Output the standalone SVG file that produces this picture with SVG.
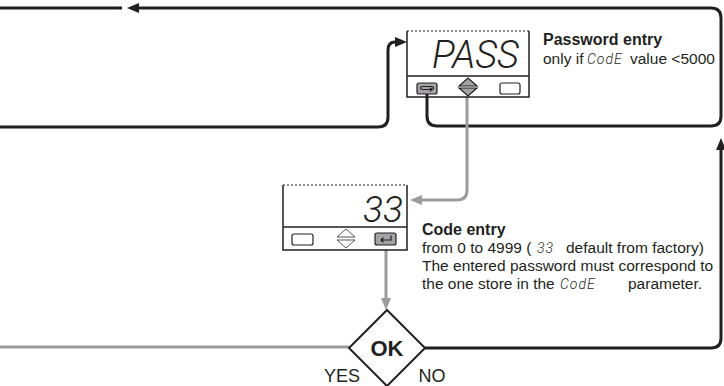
<svg xmlns="http://www.w3.org/2000/svg" width="724" height="386" viewBox="0 0 724 386">
  <style>
    .blk{fill:none;stroke:#231f20;stroke-width:3;}
    .gry{fill:none;stroke:#9b9b9d;stroke-width:3;}
    .box{fill:none;stroke:#231f20;stroke-width:1.5;}
    .dot{fill:none;stroke:#231f20;stroke-width:1.2;stroke-dasharray:2 2;}
    .lbl{font-family:"Liberation Sans",Arial,sans-serif;font-size:15.5px;fill:#231f20;}
    .bold{font-weight:bold;font-size:16px;}
    .seg{font-family:Roboto,"Open Sans","DejaVu Sans",sans-serif;font-weight:300;font-style:italic;fill:#231f20;}
    .segs{font-size:14px;letter-spacing:1px;}
    .btn{fill:#fff;stroke:#231f20;stroke-width:1.2;}
    .btnon{fill:#a3a3a5;stroke:#231f20;stroke-width:1.2;}
    .ico{fill:none;stroke:#231f20;stroke-width:1.2;}
  </style>
  <defs>
    <marker id="ab" markerUnits="userSpaceOnUse" markerWidth="14" markerHeight="12" refX="0" refY="5" orient="auto">
      <path d="M0,0 L12,5 L0,10 z" fill="#231f20"/>
    </marker>
    <marker id="ag" markerUnits="userSpaceOnUse" markerWidth="14" markerHeight="12" refX="0" refY="5" orient="auto">
      <path d="M0,0 L12,5 L0,10 z" fill="#9b9b9d"/>
    </marker>
  </defs>

  <g id="connectors">
    <path class="blk" d="M427 94 V116 Q427 126 437 126 H711 Q721 126 721 116 V18 Q721 8 711 8 H139" marker-end="url(#ab)"/>
    <path class="blk" d="M122 8 H0"/>
    <path class="blk" d="M0 127 H378 Q388 127 388 117 V50 Q388 42 395 42" marker-end="url(#ab)"/>
    <path class="blk" d="M425 348 H711 Q721 348 721 338 V150" marker-end="url(#ab)"/>
    <path class="gry" d="M467 97 V190 Q467 200 457 200 H422" marker-end="url(#ag)"/>
    <path class="gry" d="M386 250 V298" marker-end="url(#ag)"/>
    <path class="gry" d="M349 347 H0"/>
  </g>

  <g id="pass-display">
    <path class="box" d="M407 31 V97 H529 V31"/>
    <path class="dot" d="M407 31 H529"/>
    <path class="box" d="M407 76 H529"/>
    <text class="seg" x="432" y="68" font-size="38">PASS</text>
    <rect class="btnon" x="417" y="83" width="20" height="11" rx="2"/>
    <path class="ico" d="M432 89.5 H422.5 Q420.5 89.5 420.5 88 Q420.5 86.5 422.5 86.5 H431.5 Q433.5 86.5 433.5 88 Q433.5 89.5 431.5 89.5 M430 87.8 L432 89.5 L430 91.2"/>
    <path class="btnon" d="M459 86 L468 78 L477 86 Z"/>
    <path class="btnon" d="M459 88 L468 96 L477 88 Z"/>
    <rect class="btn" x="500" y="83" width="20" height="11" rx="2"/>
  </g>

  <g id="pass-label">
    <text class="lbl bold" x="543" y="45">Password entry</text>
    <text class="lbl" x="543" y="64">only if</text>
    <text class="seg segs" x="587" y="64">CodE</text>
    <text class="lbl" x="630" y="64">value &lt;5000</text>
  </g>

  <g id="code-display">
    <path class="box" d="M283 185 V250 H407 V185"/>
    <path class="dot" d="M283 185 H407"/>
    <path class="box" d="M283 227 H407"/>
    <text class="seg" x="363" y="222" font-size="37">33</text>
    <rect class="btn" x="292" y="234" width="21" height="11" rx="2"/>
    <path d="M337 237 L346 229 L355 237 Z" fill="#fff" stroke="#555" stroke-width="1"/>
    <path d="M337 240 L346 248 L355 240 Z" fill="#fff" stroke="#555" stroke-width="1"/>
    <rect class="btnon" x="375" y="233" width="21" height="12" rx="2"/>
    <path class="ico" d="M391 235.5 V240 H381 M383.5 237.8 L381 240 L383.5 242.2"/>
  </g>

  <g id="code-label">
    <text class="lbl bold" x="422" y="235">Code entry</text>
    <text class="lbl" x="422" y="253">from 0 to 4999 (</text>
    <text class="seg segs" x="537" y="253">33</text>
    <text class="lbl" x="566" y="253">default from factory)</text>
    <text class="lbl" x="422" y="271">The entered password must correspond to</text>
    <text class="lbl" x="422" y="289">the one store in the</text>
    <text class="seg segs" x="560" y="289">CodE</text>
    <text class="lbl" x="628" y="289">parameter.</text>
  </g>

  <g id="ok-decision">
    <path d="M387 310 L425 348 L387 386 L349 348 Z" fill="#fff" stroke="#231f20" stroke-width="2"/>
    <text class="lbl bold" x="387" y="356" font-size="22" text-anchor="middle" style="font-size:22px">OK</text>
    <text class="lbl" x="342" y="382" text-anchor="middle" style="font-size:18px">YES</text>
    <text class="lbl" x="432" y="382" text-anchor="middle" style="font-size:18px">NO</text>
  </g>
</svg>
